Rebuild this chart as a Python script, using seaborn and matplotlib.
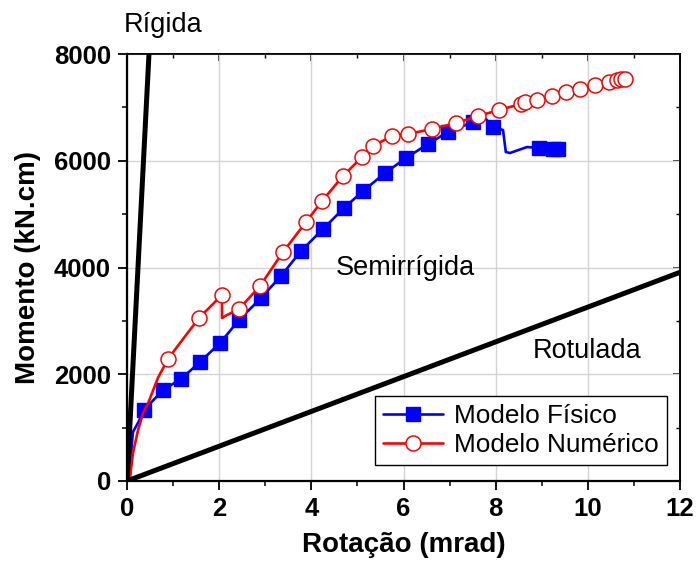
import matplotlib
matplotlib.use("Agg")
import matplotlib.pyplot as plt
import pandas as pd
import seaborn as sns
from matplotlib.lines import Line2D
from matplotlib.ticker import MultipleLocator

sns.set_theme(style="ticks")
plt.rcParams["font.family"] = ["Liberation Sans", "DejaVu Sans"]
plt.rcParams.update({
    "text.color": "black",
    "axes.labelcolor": "black",
    "xtick.color": "black",
    "ytick.color": "black",
    "axes.edgecolor": "black",
})

# Modelo Físico: full curve (mrad, kN.cm) and the marked readings
fis_rot = [0, 0.06, 0.10, 0.13, 0.24, 0.369, 0.781, 1.172, 1.584, 2.018, 2.431,
           2.908, 3.342, 3.776, 4.253, 4.709, 5.122, 5.599, 6.055, 6.532, 6.966,
           7.509, 7.77, 7.943, 8.16, 8.22, 8.31, 8.68, 8.941, 9.245, 9.353]
fis_mom = [0, 50, 640, 920, 1090, 1330, 1705, 1911, 2230, 2585, 3016,
           3429, 3841, 4309, 4721, 5115, 5433, 5770, 6052, 6314, 6539,
           6726, 6800, 6632, 6576, 6164, 6145, 6257, 6239, 6220, 6220]
fis_mark_rot = [0.369, 0.781, 1.172, 1.584, 2.018, 2.431, 2.908, 3.342, 3.776,
                4.253, 4.709, 5.122, 5.599, 6.055, 6.532, 6.966, 7.509, 7.943,
                8.941, 9.245, 9.353]
fis_mark_mom = [1330, 1705, 1911, 2230, 2585, 3016, 3429, 3841, 4309,
                4721, 5115, 5433, 5770, 6052, 6314, 6539, 6726, 6632,
                6239, 6220, 6220]

# Modelo Numérico: full curve and the marked increments
num_rot = [0, 0.065, 0.13, 0.24, 0.35, 0.46, 0.67, 0.890, 1.15, 1.563, 2.062,
           2.062, 2.17, 2.431, 2.886, 3.385, 3.885, 4.232, 4.688, 5.100, 5.339,
           5.751, 6.098, 6.619, 7.140, 7.617, 8.073, 8.55, 8.64, 8.898, 9.223,
           9.527, 9.831, 10.156, 10.46, 10.63, 10.72, 10.81]
num_mom = [0, 75, 525, 955, 1274, 1461, 1930, 2286, 2585, 3054, 3485,
           3054, 3110, 3222, 3653, 4290, 4852, 5246, 5714, 6070, 6276,
           6464, 6501, 6595, 6707, 6838, 6951, 7063, 7101, 7138, 7213,
           7288, 7344, 7419, 7475, 7513, 7532, 7532]
num_mark_rot = [0.890, 1.563, 2.062, 2.431, 2.886, 3.385, 3.885, 4.232, 4.688,
                5.100, 5.339, 5.751, 6.098, 6.619, 7.140, 7.617, 8.073, 8.55,
                8.64, 8.898, 9.223, 9.527, 9.831, 10.156, 10.46, 10.63, 10.72,
                10.81]
num_mark_mom = [2286, 3054, 3485, 3222, 3653, 4290, 4852, 5246, 5714,
                6070, 6276, 6464, 6501, 6595, 6707, 6838, 6951, 7063,
                7101, 7138, 7213, 7288, 7344, 7419, 7475, 7513, 7532,
                7532]

# Classification limits (rigid / pinned)
rigida_rot = [0, 0.477]
rigida_mom = [0, 8000]
rotulada_rot = [0, 12]
rotulada_mom = [0, 3910]

x_ticks = [0, 2, 4, 6, 8, 10, 12]
y_ticks = [0, 2000, 4000, 6000, 8000]

fis = pd.DataFrame({"rot": fis_rot, "mom": fis_mom})
num = pd.DataFrame({"rot": num_rot, "mom": num_mom})

fig = plt.figure(figsize=(6.98, 5.70), dpi=100)
ax = fig.add_axes([127 / 698, 1 - 481 / 570, 553 / 698, 427 / 570])

BLUE = "#0000ff"
RED = "#ff0000"
LW = 1.9

sns.lineplot(data=fis, x="rot", y="mom", sort=False, estimator=None,
             color=BLUE, lw=LW, ax=ax, zorder=3)
ax.plot(fis_mark_rot, fis_mark_mom, ls="none", marker="s", ms=9.8,
        mfc=BLUE, mec=BLUE, zorder=4)

sns.lineplot(data=num, x="rot", y="mom", sort=False, estimator=None,
             color=RED, lw=LW, ax=ax, zorder=5)
ax.plot(num_mark_rot, num_mark_mom, ls="none", marker="o", ms=10.8,
        mfc="white", mec=RED, mew=1.1, zorder=6)

ax.plot(rigida_rot, rigida_mom, color="black", lw=3.6, zorder=7,
        solid_capstyle="butt")
ax.plot(rotulada_rot, rotulada_mom, color="black", lw=3.6, zorder=7,
        solid_capstyle="butt")

ax.set_xlim(0, 12)
ax.set_ylim(0, 8000)
ax.set_xticks(x_ticks)
ax.set_yticks(y_ticks)
ax.xaxis.set_minor_locator(MultipleLocator(1))
ax.yaxis.set_minor_locator(MultipleLocator(1000))
ax.grid(True, which="major", color="#d4d4d4", lw=1.0, zorder=0)
ax.set_axisbelow(True)

ax.tick_params(which="major", direction="out", length=6.5, width=1.3,
               pad=5, labelsize=18.5, color="black", labelcolor="black")
ax.tick_params(which="minor", direction="out", length=3.5, width=1.1,
               color="black")
for lab in ax.get_xticklabels() + ax.get_yticklabels():
    lab.set_fontweight("bold")

for side in ("left", "bottom"):
    ax.spines[side].set_linewidth(1.6)
    ax.spines[side].set_color("black")
for side in ("top", "right"):
    ax.spines[side].set_linewidth(1.2)
    ax.spines[side].set_color("black")

# mirrored ticks pointing inward on the top and right edges
top = ax.secondary_xaxis("top")
top.set_xticks(x_ticks)
top.xaxis.set_minor_locator(MultipleLocator(1))
top.tick_params(which="major", direction="in", length=5, width=1.1,
                labeltop=False, color="black")
top.tick_params(which="minor", direction="in", length=3, width=1.0,
                color="black")
top.spines["top"].set_linewidth(1.2)
top.spines["top"].set_color("black")
right = ax.secondary_yaxis("right")
right.set_yticks(y_ticks)
right.yaxis.set_minor_locator(MultipleLocator(1000))
right.tick_params(which="major", direction="in", length=5, width=1.1,
                  labelright=False, color="black")
right.tick_params(which="minor", direction="in", length=3, width=1.0,
                  color="black")
right.spines["right"].set_linewidth(1.2)
right.spines["right"].set_color("black")

ax.set_xlabel("Rotação (mrad)", fontsize=20, fontweight="bold", labelpad=8,
              color="black")
ax.set_ylabel("Momento (kN.cm)", fontsize=20, fontweight="bold", labelpad=9,
              color="black")

ax.text(0.79, 8412, "Rígida", fontsize=19.5, ha="center", va="baseline",
        clip_on=False, color="black")
ax.text(6.04, 3859, "Semirrígida", fontsize=19.5, ha="center", va="baseline",
        color="black")
ax.text(9.99, 2304, "Rotulada", fontsize=19.5, ha="center", va="baseline",
        color="black")

handles = [
    Line2D([], [], color=BLUE, lw=LW, marker="s", ms=9.8, mfc=BLUE, mec=BLUE),
    Line2D([], [], color=RED, lw=LW, marker="o", ms=10.8, mfc="white",
           mec=RED, mew=1.1),
]
leg = ax.legend(handles, ["Modelo Físico", "Modelo Numérico"],
                loc="lower right", bbox_to_anchor=(0.9765, 0.0375),
                borderaxespad=0, fontsize=18.8, frameon=True, fancybox=False,
                framealpha=1, edgecolor="black", handlelength=2.3,
                handletextpad=0.45, borderpad=0.3, labelspacing=0.2)
leg.get_frame().set_linewidth(1.0)
for t in leg.get_texts():
    t.set_color("black")
leg.set_zorder(10)

fig.savefig("out.png", dpi=100)
